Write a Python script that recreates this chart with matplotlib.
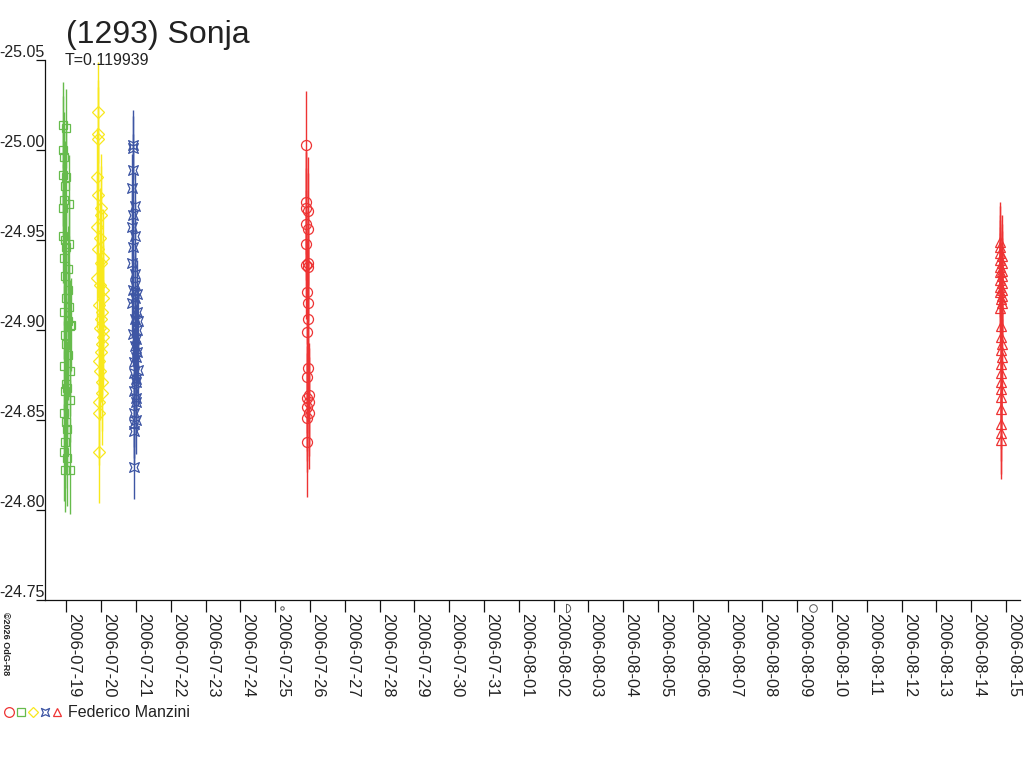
import datetime as dt
import matplotlib
matplotlib.use("Agg")
import matplotlib.pyplot as plt
import matplotlib.dates as mdates
from matplotlib.path import Path
from matplotlib.transforms import blended_transform_factory

plt.rcParams['font.family'] = ['Liberation Sans', 'DejaVu Sans']

# ---------------- data ----------------
title = "(1293) Sonja"
subtitle = "T=0.119939"
observer = "Federico Manzini"
credit = "\u00a92026 OdG-R8"

day_start = dt.datetime(2006, 7, 19)
day_end = dt.datetime(2006, 8, 15)

# session 1 (green squares), hours relative to 2006-07-19 00:00
g_hours = [-2.5, -2.4, -2.3, -2.2, -2.1, -2.0, -1.9, -1.8, -1.7, -1.6, -1.5, -1.4, -1.3, -1.2,
           -1.1, -1.0, -0.9, -0.8, -0.7, -0.6, -0.5, -0.4, -0.3, -0.2, -0.1, 0.0, 0.2, 0.4,
           0.6, 0.8, 1.0, 1.2, 1.4, 1.6, 1.8, 2.0, 2.2, 2.4, 2.6, 2.8, 3.0]
g_mag = [-24.952, -24.968, -24.986, -25.000, -25.014, -24.996, -24.972, -24.940, -24.910,
         -24.880, -24.854, -24.832, -24.822, -24.838, -24.866, -24.897, -24.930, -24.950,
         -24.980, -25.012, -24.985, -24.946, -24.918, -24.892, -24.870, -24.849, -24.829,
         -24.845, -24.868, -24.886, -24.905, -24.922, -24.934, -24.970, -24.948, -24.913,
         -24.902, -24.877, -24.861, -24.822, -24.903]
g_err = [0.026, 0.024, 0.028, 0.030, 0.024, 0.025, 0.027, 0.023, 0.026, 0.025, 0.024, 0.027,
         0.023, 0.026, 0.025, 0.028, 0.024, 0.026, 0.025, 0.022, 0.027, 0.024, 0.025, 0.026,
         0.023, 0.025, 0.027, 0.024, 0.026, 0.025, 0.023, 0.026, 0.024, 0.027, 0.025, 0.024,
         0.026, 0.025, 0.023, 0.024, 0.026]

# session 2 (yellow diamonds), hours relative to 2006-07-20 00:00
y_hours = [-3.0, -2.85, -2.7, -2.55, -2.4, -2.25, -2.1, -1.95, -1.8, -1.65, -1.5, -1.35, -1.2,
           -1.05, -0.9, -0.75, -0.6, -0.45, -0.3, -0.15, 0.0, 0.15, 0.3, 0.45, 0.6, 0.75, 0.9,
           1.05, 1.2, 1.35, 1.5]
y_mag = [-24.929, -24.957, -24.985, -25.009, -25.021, -25.006, -24.975, -24.945, -24.914,
         -24.883, -24.860, -24.832, -24.854, -24.877, -24.901, -24.925, -24.951, -24.968,
         -24.964, -24.937, -24.906, -24.888, -24.871, -24.865, -24.892, -24.910, -24.922,
         -24.940, -24.918, -24.896, -24.900]
y_err = [0.028, 0.029, 0.027, 0.030, 0.028, 0.029, 0.028, 0.027, 0.029, 0.028, 0.030, 0.028,
         0.029, 0.027, 0.028, 0.029, 0.028, 0.030, 0.027, 0.028, 0.029, 0.028, 0.027, 0.029,
         0.028, 0.030, 0.028, 0.027, 0.029, 0.028, 0.028]

# session 3 (blue stars), hours relative to 2006-07-21 00:00
b_hours = [-2.8, -2.7, -2.6, -2.5, -2.4, -2.3, -2.2, -2.1, -2.0, -1.9, -1.8, -1.7, -1.6, -1.5,
           -1.4, -1.3, -1.2, -1.1, -1.0, -0.9, -0.8, -0.7, -0.6, -0.5, -0.4, -0.3, -0.2, -0.1,
           0.0, 0.1, 0.2, 0.3, 0.4, 0.6, 0.8, 1.0, 1.2, 1.4]
b_mag = [-24.915, -24.937, -24.957, -24.979, -25.001, -25.003, -24.989, -24.964, -24.946,
         -24.922, -24.898, -24.876, -24.854, -24.844, -24.824, -24.848, -24.866, -24.882,
         -24.906, -24.925, -24.952, -24.969, -24.931, -24.918, -24.891, -24.871, -24.860,
         -24.850, -24.862, -24.873, -24.885, -24.895, -24.910, -24.920, -24.900, -24.888,
         -24.878, -24.905]
b_err = [0.019, 0.018, 0.020, 0.019, 0.018, 0.019, 0.020, 0.018, 0.019, 0.019, 0.018, 0.020,
         0.019, 0.018, 0.018, 0.019, 0.020, 0.019, 0.018, 0.019, 0.020, 0.019, 0.018, 0.019,
         0.019, 0.020, 0.018, 0.019, 0.019, 0.018, 0.020, 0.019, 0.018, 0.019, 0.019, 0.018,
         0.020, 0.019]

# session 4 (red circles), hours relative to 2006-07-26 00:00
r_hours = [-3.0, -2.9, -2.8, -2.7, -2.6, -2.5, -2.4, -2.3, -2.2, -2.1, -2.0, -1.9, -1.8, -1.7,
           -1.6, -1.5, -1.4, -1.3, -1.2, -1.1, -1.0, -0.8, -0.6]
r_mag = [-24.936, -24.959, -24.971, -25.003, -24.968, -24.948, -24.921, -24.899, -24.874,
         -24.857, -24.838, -24.851, -24.862, -24.879, -24.906, -24.915, -24.937, -24.966,
         -24.956, -24.935, -24.864, -24.860, -24.854]
r_err = [0.030, 0.031, 0.029, 0.030, 0.031, 0.030, 0.029, 0.030, 0.031, 0.030, 0.031, 0.030,
         0.029, 0.030, 0.031, 0.030, 0.029, 0.030, 0.031, 0.030, 0.029, 0.030, 0.031]

# session 5 (red triangles), hours relative to 2006-08-15 00:00
t_hours = [-4.3, -4.25, -4.2, -4.15, -4.1, -4.05, -4.0, -3.95, -3.9, -3.85, -3.8, -3.75, -3.7,
           -3.65, -3.6, -3.55, -3.5, -3.45, -3.4, -3.35, -3.3, -3.25, -3.2, -3.15, -3.1,
           -3.05, -3.0, -2.95, -2.9, -2.85, -2.8, -2.75, -2.7]
t_mag = [-24.912, -24.924, -24.935, -24.943, -24.949, -24.946, -24.939, -24.932, -24.928,
         -24.921, -24.917, -24.902, -24.896, -24.889, -24.881, -24.871, -24.863, -24.856,
         -24.848, -24.839, -24.843, -24.867, -24.876, -24.885, -24.892, -24.941, -24.937,
         -24.933, -24.930, -24.926, -24.922, -24.919, -24.915]
t_err = [0.022, 0.023, 0.022, 0.021, 0.022, 0.023, 0.022, 0.022, 0.021, 0.022, 0.023, 0.022,
         0.022, 0.021, 0.022, 0.023, 0.022, 0.022, 0.021, 0.022, 0.023, 0.022, 0.022, 0.021,
         0.022, 0.023, 0.022, 0.022, 0.021, 0.022, 0.023, 0.022, 0.022]

# moon phases (new moon, first quarter, full moon)
moon_times = [dt.datetime(2006, 7, 25, 4, 31), dt.datetime(2006, 8, 2, 8, 46),
              dt.datetime(2006, 8, 9, 10, 54)]

y_ticks = [-25.05, -25.00, -24.95, -24.90, -24.85, -24.80, -24.75]

# ---------------- styling ----------------
c_green = '#66bb4c'
c_yellow = '#f8e81c'
c_blue = '#3e56a4'
c_red = '#ee3333'
txt = '#222222'

star_path = Path([(-1, -1), (0, -0.55), (1, -1), (0.55, 0), (1, 1), (0, 0.55), (-1, 1),
                  (-0.55, 0), (-1, -1)],
                 [Path.MOVETO] + [Path.LINETO] * 7 + [Path.CLOSEPOLY])

fig = plt.figure(figsize=(10.24, 7.68), dpi=100)
fig.patch.set_facecolor('white')
W, H = 1024, 768
ax = fig.add_axes([45 / W, 1 - 600 / H, (1020 - 45) / W, (600 - 60) / H])


def to_dates(base, hours):
    return [base + dt.timedelta(hours=h) for h in hours]


series = [
    (dt.datetime(2006, 7, 19), g_hours, g_mag, g_err, c_green, 's', 6.4),
    (dt.datetime(2006, 7, 20), y_hours, y_mag, y_err, c_yellow, 'D', 6.2),
    (dt.datetime(2006, 7, 21), b_hours, b_mag, b_err, c_blue, star_path, 7.0),
    (dt.datetime(2006, 7, 26), r_hours, r_mag, r_err, c_red, 'o', 7.2),
    (dt.datetime(2006, 8, 15), t_hours, t_mag, t_err, c_red, '^', 6.5),
]
for base, hrs, mag, err, col, mk, ms in series:
    x = to_dates(base, hrs)
    ax.errorbar(x, mag, yerr=err, fmt='none', ecolor=col, elinewidth=1.0, capsize=0, zorder=2)
    ax.plot(x, mag, linestyle='none', marker=mk, markersize=ms, markerfacecolor='none',
            markeredgecolor=col, markeredgewidth=0.9, zorder=3)

ax.set_xlim(day_start - dt.timedelta(days=0.615), day_end + dt.timedelta(days=0.4))
ax.set_ylim(-24.75, -25.05)

for s in ['top', 'right']:
    ax.spines[s].set_visible(False)
for s in ['left', 'bottom']:
    ax.spines[s].set_color('#111111')
    ax.spines[s].set_linewidth(0.9)

xt = [day_start + dt.timedelta(days=i) for i in range((day_end - day_start).days + 1)]
ax.set_xticks(xt)
ax.set_xticklabels([d.strftime('%Y-%m-%d') for d in xt])
ax.tick_params(axis='x', direction='out', length=8.6, width=0.9, color='#111111', pad=0.5,
               labelsize=11.8, labelcolor=txt)
for lbl in ax.get_xticklabels():
    lbl.set_rotation(270)
    lbl.set_ha('left')
    lbl.set_va('top')

ax.set_yticks(y_ticks)
ax.set_yticklabels([f"{v:.2f}" for v in y_ticks])
ax.tick_params(axis='y', direction='out', length=6.5, width=0.9, color='#111111', pad=-6.5,
               labelsize=11.5, labelcolor=txt)
for lbl in ax.get_yticklabels():
    lbl.set_va('bottom')

# moon phase symbols just below the axis
trans = blended_transform_factory(ax.transData, ax.transAxes)
off = -7.5 / 540
ax.plot([moon_times[0]], [off], transform=trans, marker='o', markersize=2.5,
        markerfacecolor='none', markeredgecolor='#555555', markeredgewidth=0.7, clip_on=False)
ax.plot([moon_times[1]], [off], transform=trans, marker=Path.unit_circle_righthalf(),
        markersize=6, markerfacecolor='none', markeredgecolor='#555555', markeredgewidth=0.7,
        clip_on=False)
ax.plot([moon_times[2]], [off], transform=trans, marker='o', markersize=5.5,
        markerfacecolor='none', markeredgecolor='#555555', markeredgewidth=0.7, clip_on=False)

# titles
fig.text(66 / W, 1 - 43 / H, title, fontsize=23, color=txt, va='baseline', ha='left')
fig.text(65 / W, 1 - 65 / H, subtitle, fontsize=11.5, color=txt, va='baseline', ha='left')

# legend row (bottom left) on an overlay axes in pixel coordinates
ov = fig.add_axes([0, 0, 1, 1])
ov.set_xlim(0, W)
ov.set_ylim(H, 0)
ov.axis('off')
leg = [(9, c_red, 'o', 7.0), (21, c_green, 's', 5.8), (33, c_yellow, 'D', 4.8),
       (45, c_blue, star_path, 5.8), (57, c_red, '^', 6.2)]
for lx, col, mk, ms in leg:
    ov.plot([lx], [712], linestyle='none', marker=mk, markersize=ms, markerfacecolor='none',
            markeredgecolor=col, markeredgewidth=0.9)
ov.text(68, 717, observer, fontsize=11.5, color=txt, va='baseline', ha='left')
ov.text(5, 612, credit, fontsize=6.5, fontweight='bold', color=txt, rotation=270,
        ha='center', va='top')

fig.savefig('out.png', dpi=100, facecolor='white')
